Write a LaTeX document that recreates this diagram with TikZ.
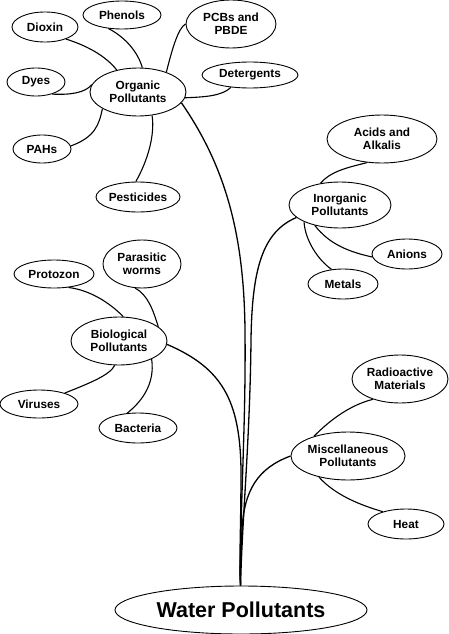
\documentclass[tikz,border=0pt]{standalone}
\usepackage{fontspec}
\setmainfont{Liberation Sans}
\usetikzlibrary{shapes.geometric}
\tikzset{
  bub/.style={draw, ellipse, line width=0.9pt, inner sep=0pt, align=center,
    font=\fontsize{11.8}{12.8}\selectfont\bfseries},
  link/.style={line width=1.1pt},
  stem/.style={line width=1.3pt}
}
\begin{document}
\begin{tikzpicture}[x=1pt, y=-1pt]
\useasboundingbox (0,0) rectangle (449,634);
% organic
\node[bub, minimum width=66pt, minimum height=30pt] (dioxin) at (45,27) {Dioxin};
\node[bub, minimum width=78pt, minimum height=28pt] (phenols) at (122,15) {Phenols};
\node[bub, minimum width=90pt, minimum height=48pt] (pcbs) at (231,24) {PCBs and\\PBDE};
\node[bub, minimum width=58pt, minimum height=28pt] (dyes) at (36,82) {Dyes};
\node[bub, minimum width=96pt, minimum height=48pt] (org) at (138,92) {Organic\\Pollutants};
\node[bub, minimum width=96pt, minimum height=26pt] (det) at (250,75) {Detergents};
\node[bub, minimum width=58pt, minimum height=28pt] (pahs) at (42,149) {PAHs};
\node[bub, minimum width=84pt, minimum height=30pt] (pest) at (138,197) {Pesticides};
% inorganic
\node[bub, minimum width=110pt, minimum height=48pt] (acids) at (382,139) {Acids and\\Alkalis};
\node[bub, minimum width=102pt, minimum height=46pt] (inorg) at (340,205) {Inorganic\\Pollutants};
\node[bub, minimum width=70pt, minimum height=30pt] (anions) at (407,254) {Anions};
\node[bub, minimum width=70pt, minimum height=30pt] (metals) at (343,284) {Metals};
% biological
\node[bub, minimum width=80pt, minimum height=28pt] (proto) at (54,274) {Protozon};
\node[bub, minimum width=78pt, minimum height=48pt] (para) at (142,264) {Parasitic\\worms};
\node[bub, minimum width=96pt, minimum height=48pt] (bio) at (119,341) {Biological\\Pollutants};
\node[bub, minimum width=78pt, minimum height=28pt] (vir) at (39,404) {Viruses};
\node[bub, minimum width=78pt, minimum height=30pt] (bact) at (138,428) {Bacteria};
% misc
\node[bub, minimum width=96pt, minimum height=48pt] (radio) at (400,379) {Radioactive\\Materials};
\node[bub, minimum width=110pt, minimum height=48pt] (misc) at (348,456) {Miscellaneous\\Pollutants};
\node[bub, minimum width=76pt, minimum height=30pt] (heat) at (406,524) {Heat};
% root
\node[bub, minimum width=252pt, minimum height=48pt, font=\fontsize{21.5}{24}\selectfont\bfseries] (water) at (241,610) {Water Pollutants};

% organic branches
\draw[link] (dioxin.-30) .. controls (85,45) and (105,55) .. (org.134);
\draw[link] (phenols.-135) .. controls (125,37) and (138,52) .. (org.80);
\draw[link] (org.35) .. controls (172,50) and (178,28) .. (pcbs.180);
\draw[link] (dyes.-37) .. controls (70,95) and (85,93) .. (org.171);
\draw[link] (org.-7) .. controls (205,97) and (222,96) .. (det.213);
\draw[link] (pahs.6) .. controls (95,137) and (99,125) .. (org.205);
\draw[link] (pest.98) .. controls (148,160) and (155,135) .. (org.-59);
% inorganic branches
\draw[link] (inorg.132) .. controls (330,172) and (345,168) .. (acids.238);
\draw[link] (inorg.219) .. controls (330,245) and (350,252) .. (anions.185);
\draw[link] (inorg.205) .. controls (305,240) and (318,260) .. (metals.128);
% biological branches
\draw[link] (proto.-43) .. controls (90,290) and (110,303) .. (bio.80);
\draw[link] (para.254) .. controls (148,295) and (153,310) .. (bio.20);
\draw[link] (vir.23) .. controls (90,383) and (110,375) .. (bio.260);
\draw[link] (bact.126) .. controls (150,395) and (154,375) .. (bio.-29);
% misc branches
\draw[link] (misc.150) .. controls (330,420) and (350,405) .. (radio.217);
\draw[link] (misc.216) .. controls (335,495) and (360,505) .. (heat.152);

% stems
\draw[stem] (org.-14) .. controls (228,170) and (244,240) .. (245,330)
  .. controls (246,430) and (240,500) .. (water.91);
\draw[stem] (inorg.196) .. controls (262,232) and (252,270) .. (251,340)
  .. controls (250,440) and (242,520) .. (water.91);
\draw[stem] (bio.-4) .. controls (222,368) and (240,400) .. (241,470)
  .. controls (241,530) and (239,560) .. (water.91);
\draw[stem] (misc.180) .. controls (258,468) and (244,490) .. (242,530)
  .. controls (241,555) and (239,570) .. (water.91);
\end{tikzpicture}
\end{document}
